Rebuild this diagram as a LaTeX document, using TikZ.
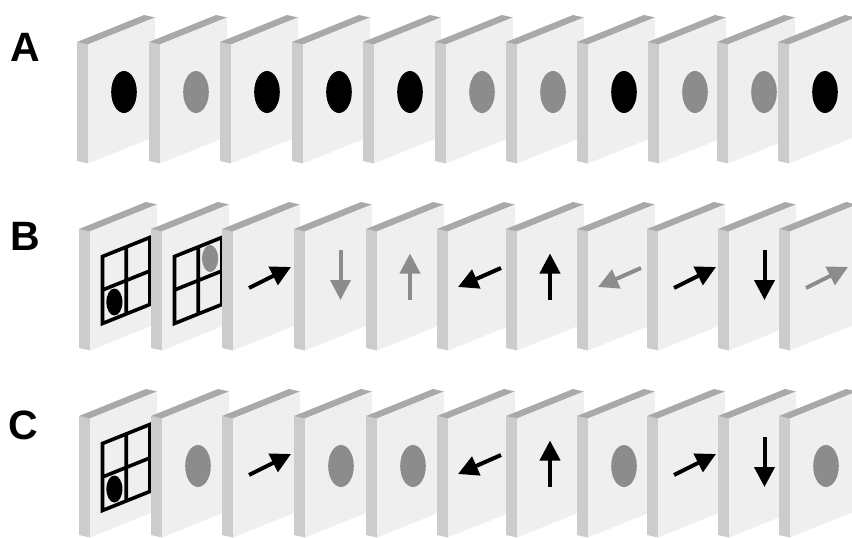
\documentclass[tikz,border=0pt]{standalone}
\usepackage{fontspec}
\usepackage{tikz}
\usetikzlibrary{
    arrows.meta
}
\newfontfamily\panelfont{Liberation Sans}

\definecolor{cardfront}{HTML}{EFEFEF}
\definecolor{cardside}{HTML}{CCCCCC}
\definecolor{cardtop}{HTML}{A9A9A9}
\definecolor{dim}{HTML}{8C8C8C}

% one card, origin at its back top corner
\newcommand{\cardface}{%
\fill[cardside] (0,0) -- (11,2.5) -- (11,121.5) -- (0,119) -- cycle;
\fill[cardtop] (0,0) -- (11,2.5) -- (78,-24.5) -- (67,-27) -- cycle;
\fill[cardfront] (11,2.5) -- (78,-24.5) -- (78,94.5) -- (11,121.5) -- cycle;
}

% what sits on a card
\newcommand{\spot}[1]{\fill[#1] (47,50) ellipse [x radius=12.8, y radius=21];}
\newcommand{\gridspot}[3]{%
\fill[#1] (#2,#3) ellipse [x radius=8, y radius=13.5];
\draw[gridline] (23.5,27.5) -- (71,8.4) -- (71,75.4) -- (23.5,94.5) -- cycle
(47.25,17.95) -- (47.25,84.95)
(23.5,61) -- (71,41.9);
}
\newcommand{\gridlow}{\gridspot{black}{35.4}{73}}
\newcommand{\gridhigh}{\gridspot{dim}{59.1}{29.5}}
\newcommand{\arrNE}[1]{\draw[pointer, #1] (27,59) -- (69,38);}
\newcommand{\arrSW}[1]{\draw[pointer, #1] (64,39) -- (21,58);}
\newcommand{\arrUp}[1]{\draw[pointer, #1] (44,70.5) -- (44,24.5);}
\newcommand{\arrDown}[1]{\draw[pointer, #1] (46.5,21) -- (46.5,71);}

\begin{document}
\begin{tikzpicture}[
x=1pt, y=-1pt,
panel/.style={
inner sep=0pt,
font=\panelfont\bfseries\fontsize{41}{41}\selectfont
},
gridline/.style={
draw=black,
line width=3.6pt
},
pointer/.style={
line width=4pt,
-{Triangle[length=20pt, width=20pt]}
}
]

\useasboundingbox (0,0) rectangle (852,538);

\node[panel] (labA) at (25.5,47) {A};
\node[panel] (labB) at (25.3,236) {B};
\node[panel] (labC) at (23.5,425.5) {C};

% row A
\foreach \x/\c in {77/black, 149/dim, 220/black, 292/black, 363/black,
435/dim, 506/dim, 577/black, 648/dim, 717/dim, 778/black}
{
\begin{scope}[shift={(\x,42)}]
\cardface
\spot{\c}
\end{scope}
}

% row B
\foreach \x/\what in {79/\gridlow, 151/\gridhigh, 222/{\arrNE{black}},
294/{\arrDown{dim}}, 366/{\arrUp{dim}}, 437/{\arrSW{black}},
506/{\arrUp{black}}, 577/{\arrSW{dim}}, 647/{\arrNE{black}},
718/{\arrDown{black}}, 779/{\arrNE{dim}}}
{
\begin{scope}[shift={(\x,229)}]
\cardface
\what
\end{scope}
}

% row C
\foreach \x/\what in {79/\gridlow, 151/{\spot{dim}}, 222/{\arrNE{black}},
294/{\spot{dim}}, 366/{\spot{dim}}, 437/{\arrSW{black}},
506/{\arrUp{black}}, 577/{\spot{dim}}, 647/{\arrNE{black}},
718/{\arrDown{black}}, 779/{\spot{dim}}}
{
\begin{scope}[shift={(\x,416)}]
\cardface
\what
\end{scope}
}

\end{tikzpicture}
\end{document}
